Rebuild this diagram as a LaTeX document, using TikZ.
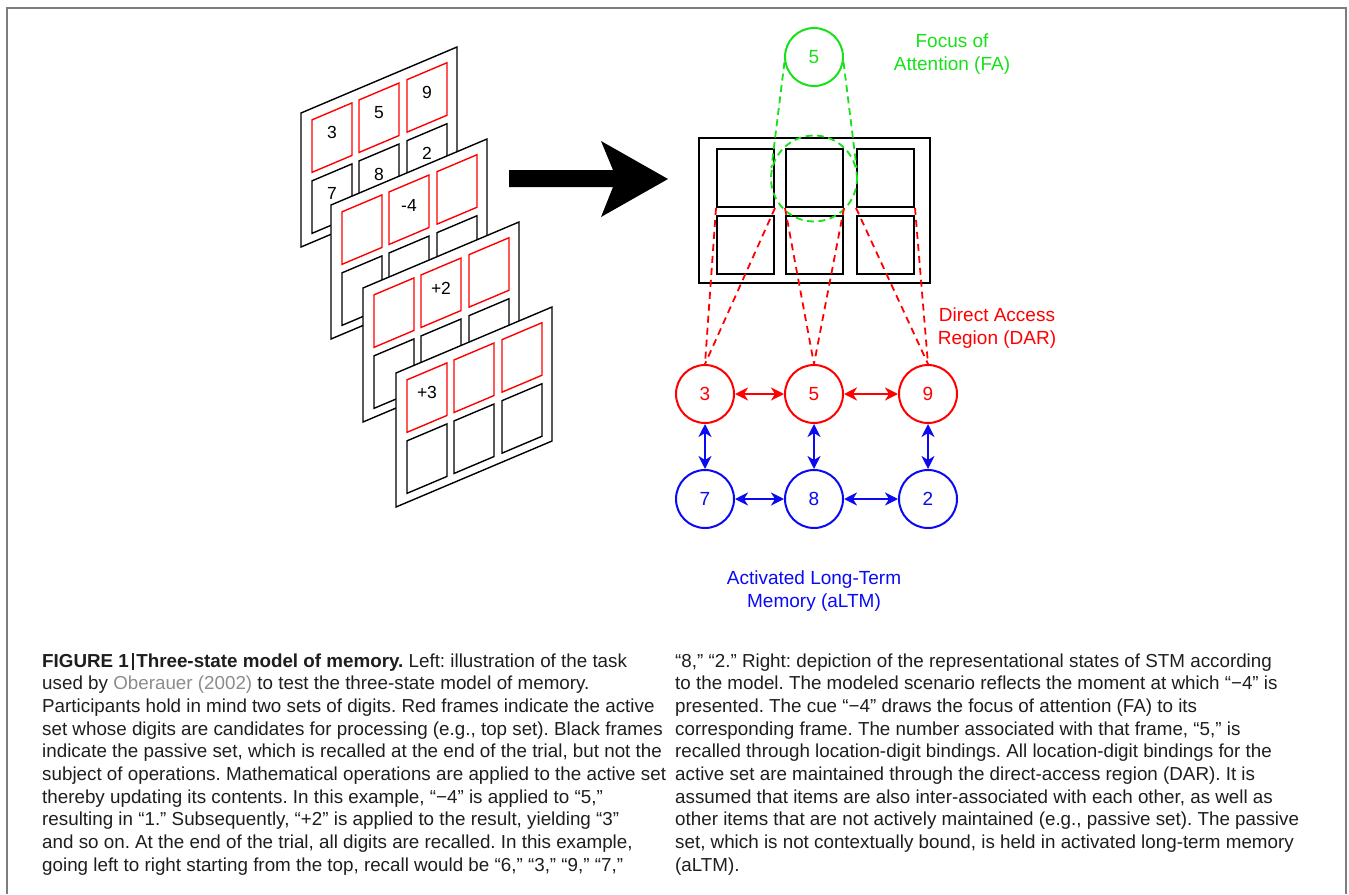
\documentclass[tikz,border=0pt]{standalone}
\usepackage{fontspec}
\setmainfont{Liberation Sans}
\usetikzlibrary{arrows.meta}
\definecolor{fagreen}{RGB}{25,225,25}
\definecolor{darred}{RGB}{255,0,0}
\definecolor{ltmblue}{RGB}{10,10,245}
\definecolor{framegray}{RGB}{125,125,125}
\definecolor{linkgray}{RGB}{140,140,140}
\definecolor{captext}{RGB}{30,30,30}
\frenchspacing
\tikzset{
  cardout/.style={draw=black, fill=white, line width=1.4pt, line join=miter},
  redcell/.style={draw=darred, line width=1.4pt},
  blkcell/.style={draw=black, line width=1.4pt},
  carddigit/.style={inner sep=0pt, font=\fontsize{17.5}{17.5}\selectfont, text=black},
  gridcell/.style={draw=black, line width=2pt, minimum width=57pt, minimum height=58pt, inner sep=0pt},
  memcirc/.style={circle, line width=2pt, minimum size=58pt, inner sep=0pt, font=\fontsize{19}{19}\selectfont},
  redcirc/.style={memcirc, draw=darred, text=darred},
  bluecirc/.style={memcirc, draw=ltmblue, text=ltmblue},
  greencirc/.style={memcirc, draw=fagreen, text=fagreen},
  dashgreen/.style={draw=fagreen, line width=1.8pt, dash pattern=on 7pt off 4.5pt},
  dashred/.style={draw=darred, line width=1.8pt, dash pattern=on 7pt off 5pt},
  redarr/.style={draw=darred, line width=2pt, {Stealth[length=13pt, width=13pt, inset=4pt]}-{Stealth[length=13pt, width=13pt, inset=4pt]}},
  bluearr/.style={draw=ltmblue, line width=2pt, {Stealth[length=13pt, width=13pt, inset=4pt]}-{Stealth[length=13pt, width=13pt, inset=4pt]}},
  lbl/.style={align=center, inner sep=0pt, font=\fontsize{19}{23}\selectfont},
  capline/.style={anchor=base west, inner sep=0pt, text=captext, font=\fontsize{18.8}{23}\selectfont},
}
\newcommand\memcard[3]{%
  \begin{scope}[shift={(#1,#2)}, cm={1,0.423,0,1,(0,0)}]
    \draw[cardout] (0,0) -- (156,0) -- (156,134) -- (0,134) -- cycle;
    \foreach \ua/\ub in {11/51,58/98,106/146} {
      \draw[redcell] (\ua,11.5) -- (\ub,11.5) -- (\ub,64) -- (\ua,64) -- cycle;
      \draw[blkcell] (\ua,72.5) -- (\ub,72.5) -- (\ub,125) -- (\ua,125) -- cycle;
    }
    #3
  \end{scope}}
\begin{document}
\begin{tikzpicture}[x=1pt, y=-1pt]
  \useasboundingbox (0,0) rectangle (1349,894);
  \fill[white] (0,0) rectangle (1349,894);
  % outer frame (open at the bottom)
  \draw[framegray, line width=2pt] (7,894) -- (7,8) -- (1346,8) -- (1346,894);

  % stacked cards
  \memcard{301}{113}{%
    \node[carddigit] (d11) at (31,33) {3};
    \node[carddigit] (d12) at (78,33) {5};
    \node[carddigit] (d13) at (126,33) {9};
    \node[carddigit] (d21) at (31,94) {7};
    \node[carddigit] (d22) at (78,94) {8};
    \node[carddigit] (d23) at (126,94) {2};}
  \memcard{331}{205}{\node[carddigit] (op1) at (78,33) {-4};}
  \memcard{363}{288}{\node[carddigit] (op2) at (78,33) {+2};}
  \memcard{396}{373}{\node[carddigit] (op3) at (31,33) {+3};}

  % big arrow
  \fill[black] (509,170) -- (613,170) -- (601,141) -- (668,179) -- (601,217) -- (613,187) -- (509,187) -- cycle;

  % grid of frames
  \draw[black, line width=2pt] (699,138) rectangle (930,283);
  \node[gridcell] (g11) at (745.5,178) {};
  \node[gridcell] (g12) at (814.5,178) {};
  \node[gridcell] (g13) at (885.5,178) {};
  \node[gridcell] (g21) at (745.5,244.5) {};
  \node[gridcell] (g22) at (814.5,244.5) {};
  \node[gridcell] (g23) at (885.5,244.5) {};

  % focus of attention
  \node[greencirc] (fa) at (814,57) {5};
  \node[circle, minimum size=86pt, inner sep=0pt, dashgreen] (fad) at (814,178.5) {};
  \draw[dashgreen] (fa.190) -- (fad.166);
  \draw[dashgreen] (fa.-10) -- (fad.14);
  \node[lbl, text=fagreen] (falbl) at (952,54.5) {Focus of\\Attention (FA)};

  % memory nodes
  \node[redcirc] (r1) at (705,394) {3};
  \node[redcirc] (r2) at (814,394) {5};
  \node[redcirc] (r3) at (928,394) {9};
  \node[bluecirc] (b1) at (705,499) {7};
  \node[bluecirc] (b2) at (814,499) {8};
  \node[bluecirc] (b3) at (928,499) {2};

  % direct access dashed lines
  \draw[dashred] (g11.south west) -- (r1.north);
  \draw[dashred] (g11.south east) -- (r1.north);
  \draw[dashred] (g12.south west) -- (r2.north);
  \draw[dashred] (g12.south east) -- (r2.north);
  \draw[dashred] (g13.south west) -- (r3.north);
  \draw[dashred] (g13.south east) -- (r3.north);

  % associations
  \draw[redarr] (r1) -- (r2);
  \draw[redarr] (r2) -- (r3);
  \draw[bluearr] (r1) -- (b1);
  \draw[bluearr] (r2) -- (b2);
  \draw[bluearr] (r3) -- (b3);
  \draw[bluearr] (b1) -- (b2);
  \draw[bluearr] (b2) -- (b3);

  \node[lbl, text=darred] (darlbl) at (997,328.5) {Direct Access\\Region (DAR)};
  \node[lbl, text=ltmblue] (ltmlbl) at (814,591.5) {Activated Long-Term\\Memory (aLTM)};

  % caption, left column
  \node[capline] (la) at (42,667) {{\bfseries FIGURE 1\hspace{3pt}\rule[-3pt]{2.4pt}{17pt}\hspace{2pt}Three-state model of memory.} Left: illustration of the task};
  \node[capline] (lb) at (42,689.7) {used by \textcolor{linkgray}{Oberauer (2002)} to test the three-state model of memory.};
  \node[capline] (lc) at (42,712.3) {Participants hold in mind two sets of digits. Red frames indicate the active};
  \node[capline] (ld) at (42,735) {set whose digits are candidates for processing (e.g., top set). Black frames};
  \node[capline] (le) at (42,757.7) {indicate the passive set, which is recalled at the end of the trial, but not the};
  \node[capline] (lf) at (42,780.3) {subject of operations. Mathematical operations are applied to the active set};
  \node[capline] (lg) at (42,803) {thereby updating its contents. In this example, “−4” is applied to “5,”};
  \node[capline] (lh) at (42,825.7) {resulting in “1.” Subsequently, “+2” is applied to the result, yielding “3”};
  \node[capline] (li) at (42,848.3) {and so on. At the end of the trial, all digits are recalled. In this example,};
  \node[capline] (lj) at (42,871) {going left to right starting from the top, recall would be “6,” “3,” “9,” “7,”};

  % caption, right column
  \node[capline] (ra) at (675,667) {“8,” “2.” Right: depiction of the representational states of STM according};
  \node[capline] (rb) at (675,689.7) {to the model. The modeled scenario reflects the moment at which “−4” is};
  \node[capline] (rc) at (675,712.3) {presented. The cue “−4” draws the focus of attention (FA) to its};
  \node[capline] (rd) at (675,735) {corresponding frame. The number associated with that frame, “5,” is};
  \node[capline] (re) at (675,757.7) {recalled through location-digit bindings. All location-digit bindings for the};
  \node[capline] (rf) at (675,780.3) {active set are maintained through the direct-access region (DAR). It is};
  \node[capline] (rg) at (675,803) {assumed that items are also inter-associated with each other, as well as};
  \node[capline] (rh) at (675,825.7) {other items that are not actively maintained (e.g., passive set). The passive};
  \node[capline] (ri) at (675,848.3) {set, which is not contextually bound, is held in activated long-term memory};
  \node[capline] (rj) at (675,871) {(aLTM).};
\end{tikzpicture}
\end{document}
